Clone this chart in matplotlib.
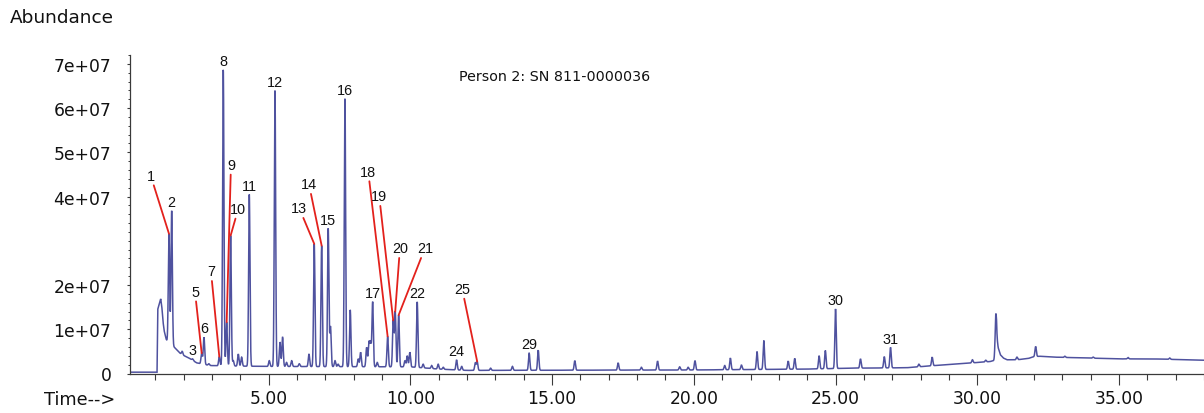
import numpy as np
import matplotlib
matplotlib.use("Agg")
import matplotlib.pyplot as plt
from matplotlib.ticker import MultipleLocator, FixedLocator, FuncFormatter

SCALE = 1e7  # abundances below are given in units of 1e7 counts

# Slowly varying background of the total ion chromatogram (solvent front,
# column bleed and the tailing hump near 30.7 min): time (min), abundance
background_time = [0.10, 1.06, 1.085, 1.19, 1.23, 1.27, 1.31, 1.38, 1.43, 1.52,
                   1.63, 1.75, 1.87, 1.99, 2.16, 2.46, 2.93, 3.60, 5.00, 10.0,
                   11.0, 12.0, 20.0, 24.0, 25.5, 27.5, 28.5, 29.6, 30.45, 30.63,
                   30.68, 30.74, 30.82, 30.92, 31.05, 31.40, 31.80, 32.00, 32.20,
                   32.70, 33.90, 35.00, 36.20, 38.00]
background_abundance = [0.03, 0.03, 1.45, 1.69, 1.50, 1.18, 0.97, 0.78, 0.71, 0.66,
                        0.62, 0.54, 0.46, 0.41, 0.36, 0.24, 0.18, 0.17, 0.16, 0.15,
                        0.10, 0.07, 0.08, 0.10, 0.12, 0.13, 0.18, 0.23, 0.27, 0.30,
                        0.85, 0.58, 0.42, 0.35, 0.31, 0.31, 0.34, 0.38, 0.39,
                        0.37, 0.35, 0.33, 0.33, 0.30]

# Resolved peaks: retention time (min) and apex abundance
peak_time = [1.481, 1.577, 1.95, 2.317, 2.635, 2.716, 2.89, 3.257, 3.397, 3.517,
             3.657, 3.75, 3.927, 4.045, 4.315, 5.02, 5.221, 5.397, 5.49, 5.63,
             5.81, 6.08, 6.42, 6.607, 6.868, 7.10, 7.18, 7.34, 7.45, 7.69,
             7.877, 8.16, 8.243, 8.455, 8.536, 8.595, 8.667, 8.83, 9.196, 9.393,
             9.464, 9.584, 9.806, 9.888, 9.98, 10.24, 10.45, 10.75, 10.98, 11.16,
             11.63, 11.81, 12.29, 12.356, 12.83, 13.6, 14.19, 14.51, 15.80, 17.33,
             18.15, 18.72, 19.5, 19.8, 20.04, 21.09, 21.29, 21.68, 22.23, 22.47,
             23.33, 23.56, 24.42, 24.64, 25.00, 25.88, 26.72, 26.94, 27.94, 28.41,
             28.68, 29.15, 29.83, 30.30, 30.65, 31.40, 32.06, 33.09, 34.09, 35.32,
             36.79]
peak_abundance = [3.16, 3.68, 0.50, 0.33, 0.46, 0.82, 0.22, 0.38, 6.87, 1.16,
                  3.12, 0.29, 0.44, 0.37, 4.05, 0.29, 6.40, 0.71, 0.82, 0.25,
                  0.29, 0.22, 0.44, 2.93, 2.89, 3.28, 1.06, 0.29, 0.21, 6.22,
                  1.44, 0.33, 0.48, 0.59, 0.71, 0.70, 1.62, 0.25, 0.84, 1.20,
                  1.40, 1.32, 0.29, 0.40, 0.48, 1.62, 0.21, 0.18, 0.21, 0.14,
                  0.31, 0.16, 0.24, 0.27, 0.12, 0.16, 0.46, 0.53, 0.29, 0.24,
                  0.14, 0.28, 0.15, 0.14, 0.29, 0.18, 0.35, 0.19, 0.49, 0.74,
                  0.28, 0.34, 0.40, 0.52, 1.46, 0.33, 0.38, 0.59, 0.21, 0.37,
                  0.18, 0.20, 0.31, 0.30, 1.31, 0.37, 0.61, 0.39, 0.37, 0.36,
                  0.35]

# Numbered compounds written directly above their peak
top_label_number = [2, 3, 6, 8, 11, 12, 15, 16, 17, 22, 24, 29, 30, 31]
top_label_time = [1.577, 2.317, 2.716, 3.397, 4.315, 5.221, 7.10, 7.69, 8.667,
                  10.24, 11.63, 14.19, 25.00, 26.94]

# Numbered compounds joined to their peak by a red leader line
leader_number = [1, 5, 7, 9, 10, 13, 14, 18, 19, 20, 21, 25]
leader_time = [1.481, 2.635, 3.257, 3.517, 3.657, 6.607, 6.868, 9.196, 9.393,
               9.464, 9.584, 12.356]
leader_text_time = [0.836, 2.399, 2.963, 3.668, 3.926, 6.078, 6.420, 8.511,
                    8.899, 9.630, 10.512, 11.827]
leader_text_abundance = [4.475, 1.851, 2.312, 4.717, 3.722, 3.738, 4.281, 4.566,
                         4.009, 2.833, 2.833, 1.912]

sample_title = "Person 2: SN 811-0000036"
x_tick_values = [5, 10, 15, 20, 25, 30, 35]
y_tick_values = [0, 1, 2, 4, 5, 6, 7]

# ---------------------------------------------------------------- trace
bt = np.array(background_time)
ba = np.array(background_abundance) * SCALE
t = np.arange(0.10, 38.0, 0.004)
signal = np.interp(t, bt, ba)
peak_sigma = 0.024
apex = {}
for pt, pa in zip(peak_time, peak_abundance):
    height = max(pa * SCALE - np.interp(pt, bt, ba), 0.0)
    signal += height * np.exp(-0.5 * ((t - pt) / peak_sigma) ** 2)
    apex[pt] = pa * SCALE

fig = plt.figure(figsize=(12.04, 4.14), dpi=100)
ax = fig.add_axes([130 / 1204, 39.5 / 414, 1 - 130 / 1204, 318.5 / 414])

ax.plot(t, signal, color="#4f529f", lw=1.1, solid_joinstyle="miter")

ax.set_xlim(0.106, 38.0)
ax.set_ylim(0, 7.2e7)

for side in ("top", "right"):
    ax.spines[side].set_visible(False)
for side in ("left", "bottom"):
    ax.spines[side].set_color("#3a3a3a")
    ax.spines[side].set_linewidth(0.9)

ax.xaxis.set_major_locator(FixedLocator(x_tick_values))
ax.xaxis.set_minor_locator(MultipleLocator(1))
ax.xaxis.set_major_formatter(FuncFormatter(lambda v, p: f"{v:.2f}"))
ax.yaxis.set_major_locator(FixedLocator([v * SCALE for v in y_tick_values]))
ax.yaxis.set_minor_locator(MultipleLocator(0.2 * SCALE))
ax.yaxis.set_major_formatter(
    FuncFormatter(lambda v, p: "0" if v == 0 else f"{v:.0e}"))

ax.tick_params(axis="x", which="major", direction="out", length=8, width=0.8,
               color="#3a3a3a", pad=3, labelsize=12.3, labelcolor="#111111")
ax.tick_params(axis="x", which="minor", direction="out", length=4.5, width=0.8,
               color="#3a3a3a")
ax.tick_params(axis="y", which="major", direction="out", length=2.5, width=0.8,
               color="#3a3a3a", pad=11, labelsize=12.3, labelcolor="#111111")
ax.tick_params(axis="y", which="minor", direction="out", length=1.8, width=0.7,
               color="#3a3a3a")

fig.text(10 / 1204, 1 - 18 / 414, "Abundance", ha="left", va="center",
         fontsize=13.3, color="#111111")
fig.text(115 / 1204, 1 - 400 / 414, "Time-->", ha="right", va="center",
         fontsize=12.8, color="#111111")
ax.text(0.395, 0.935, sample_title, transform=ax.transAxes, ha="center",
        va="center", fontsize=10.3, color="#111111")

label_font = dict(family=["Liberation Sans", "DejaVu Sans"], fontsize=10.4,
                  color="#111111")

for num, pt in zip(top_label_number, top_label_time):
    ax.annotate(str(num), xy=(pt, apex[pt]), xytext=(0, 6.3),
                textcoords="offset points", ha="center", va="center",
                **label_font)

for num, pt, lt, la in zip(leader_number, leader_time, leader_text_time,
                           leader_text_abundance):
    ax.annotate(str(num), xy=(pt, apex[pt]), xytext=(lt, la * SCALE),
                ha="center", va="center",
                arrowprops=dict(arrowstyle="-", color="#e3211c", lw=1.3,
                                shrinkA=0, shrinkB=0),
                **label_font)

fig.savefig("out.png", dpi=100)
